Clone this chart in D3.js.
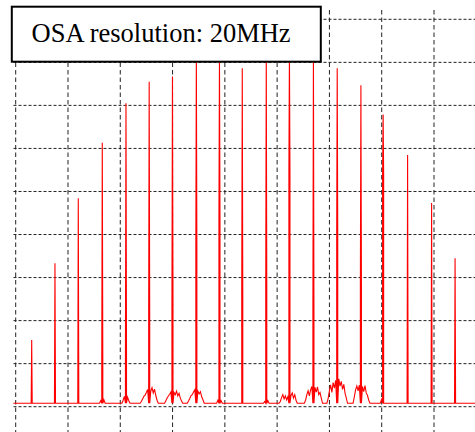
<!DOCTYPE html>
<html>
<head>
<meta charset="utf-8">
<script src="https://cdn.jsdelivr.net/npm/d3@7"></script>
<style>
  body { margin: 0; background: #fff; }
  svg { display: block; }
</style>
</head>
<body>
<div id="chart"></div>
<script>
// comb lines, frequency offset in GHz and peak level in dB
var peakFreq = [3.06, 7.51, 11.97, 16.56, 21.09, 25.53, 29.98, 34.55, 38.97, 43.33,
                47.92, 52.35, 56.94, 61.49, 66.02, 70.27, 74.95, 79.54, 84.03];
var peakLevel = [-74.5, -56.7, -41.6, -28.7, -19.5, -14.5, -13.3, -8.0, -8.5, -11.4,
                 -8.0, -7.5, -8.0, -11.4, -15.3, -22.1, -31.5, -42.7, -55.5];
// level where each line widens near its foot (null = no shoulder)
var shoulderLevel = [null, null, null, -79.9, -77.0, -69.7, -66.0, -52.7, -46.4, -64.2,
                     -62.1, -35.2, -67.4, -50.3, -61.7, -36.2, null, null, null];
// noise pedestal beside each line (left: far -> near, right: near -> far)
var noiseLeft = [[], [], [], [-88.6], [-88.5, -87.6],
  [-88.8, -88.2, -87.6, -87.3, -86.7, -86.0],
  [-88.6, -88.0, -87.5, -87.1, -86.6],
  [-88.7, -88.1, -87.4, -87.2, -86.6, -86.1],
  [-88.5], [], [-88.8],
  [-88.8, -87.9, -87.2, -88.2, -87.5, -88.4, -87.7],
  [-88.5, -87.2, -86.3, -87.5, -86.1, -85.3],
  [-88.1, -86.4, -84.9, -86.7, -84.4, -85.7, -83.9],
  [-87.7, -86.1, -85.2, -86.3, -85.0],
  [-88.3], [], [], []];
var noiseRight = [[], [], [], [-88.4], [-87.8, -88.6],
  [-86.4, -85.6, -86.8, -85.9, -87.4, -88.5],
  [-86.7, -87.2, -86.4, -87.5, -86.9, -88.0, -88.7],
  [-86.4, -87.0, -86.5, -87.7, -88.4],
  [-88.6], [], [-88.6],
  [-87.4, -86.8, -88.0, -87.2, -88.5],
  [-85.5, -86.6, -85.4, -87.2, -86.7, -88.0],
  [-83.5, -85.2, -84.1, -86.0, -84.8, -86.9, -88.0],
  [-85.3, -86.5, -85.1, -86.8, -87.4, -88.5],
  [], [], [], []];
var baseLevel = -89.2;
var freqSpan = [-0.45, 88];
var xTicks = [0, 10, 20, 30, 40, 50, 60, 70, 80];
var yTicks = [-90, -80, -70, -60, -50, -40, -30, -20, -10, 0];
var legendText = 'OSA resolution: 20MHz';

var width = 475, height = 432;
var svg = d3.select('#chart').append('svg')
  .attr('width', width)
  .attr('height', height);

var x = d3.scaleLinear().domain([0, 80]).range([15.7, 434]),
    y = d3.scaleLinear().domain([-90, 0]).range([406.7, 19.3]);

// grid
var grid = svg.append('g');
grid.selectAll('.vgrid')
  .data(xTicks)
  .enter().append('line')
  .attr('x1', function(d) { return x(d); })
  .attr('x2', function(d) { return x(d); })
  .attr('y1', 10)
  .attr('y2', height)
  .attr('stroke', '#222')
  .attr('stroke-width', 1)
  .attr('stroke-dasharray', '4.5,3');
grid.selectAll('.hgrid')
  .data(yTicks)
  .enter().append('line')
  .attr('x1', 13.5)
  .attr('x2', width)
  .attr('y1', function(d) { return y(d); })
  .attr('y2', function(d) { return y(d); })
  .attr('stroke', '#222')
  .attr('stroke-width', 1)
  .attr('stroke-dasharray', '3,2');

// spectrum trace
var step = 0.24, gap = 0.3, half = 0.1;
var pts = [[freqSpan[0], baseLevel]];
peakFreq.forEach(function(f, i) {
  var L = noiseLeft[i], R = noiseRight[i];
  if (L.length) {
    pts.push([f - gap - L.length * step, baseLevel]);
    L.forEach(function(v, j) { pts.push([f - gap - (L.length - 1 - j) * step, v]); });
  }
  pts.push([f - half, baseLevel]);
  if (shoulderLevel[i] !== null) pts.push([f - half, shoulderLevel[i]]);
  pts.push([f, peakLevel[i]]);
  if (shoulderLevel[i] !== null) pts.push([f + half, shoulderLevel[i]]);
  pts.push([f + half, baseLevel]);
  if (R.length) {
    R.forEach(function(v, j) { pts.push([f + gap + j * step, v]); });
    pts.push([f + gap + R.length * step, baseLevel]);
  }
});
pts.push([freqSpan[1], baseLevel]);

var line = d3.line()
  .x(function(d) { return x(d[0]); })
  .y(function(d) { return y(d[1]); });

svg.append('path')
  .datum(pts)
  .attr('fill', 'none')
  .attr('stroke', '#ff0000')
  .attr('stroke-width', 1.1)
  .attr('stroke-linejoin', 'miter')
  .attr('d', line);

// legend box
var legend = svg.append('g');
legend.append('rect')
  .attr('x', 11.8)
  .attr('y', 6.7)
  .attr('width', 309)
  .attr('height', 55)
  .attr('fill', '#fff')
  .attr('stroke', '#000')
  .attr('stroke-width', 2);
legend.append('text')
  .attr('x', 31.5)
  .attr('y', 42)
  .style('font-family', "'Liberation Serif'")
  .style('font-size', '26.5px')
  .attr('fill', '#000')
  .text(legendText);
</script>
</body>
</html>
